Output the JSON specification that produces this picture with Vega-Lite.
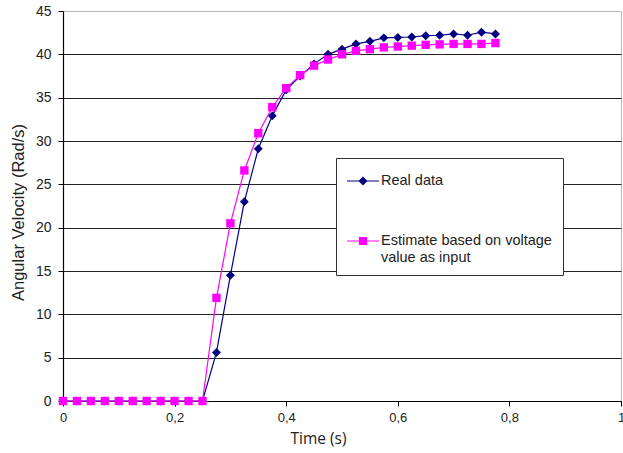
{
  "$schema": "https://vega.github.io/schema/vega-lite/v6.json",
  "autosize": {"type": "none"},
  "padding": {"left": 63, "top": 11, "right": 2, "bottom": 52},
  "width": 558,
  "height": 390,
  "background": "white",
  "config": {
    "view": {"stroke": "#b8b8b8", "strokeWidth": 1},
    "font": "Liberation Sans"
  },
  "data": {
    "values": [
      {"t": 0.0, "series": "Real data", "v": 0},
      {"t": 0.025, "series": "Real data", "v": 0},
      {"t": 0.05, "series": "Real data", "v": 0},
      {"t": 0.075, "series": "Real data", "v": 0},
      {"t": 0.1, "series": "Real data", "v": 0},
      {"t": 0.125, "series": "Real data", "v": 0},
      {"t": 0.15, "series": "Real data", "v": 0},
      {"t": 0.175, "series": "Real data", "v": 0},
      {"t": 0.2, "series": "Real data", "v": 0},
      {"t": 0.225, "series": "Real data", "v": 0},
      {"t": 0.25, "series": "Real data", "v": 0},
      {"t": 0.275, "series": "Real data", "v": 5.6},
      {"t": 0.3, "series": "Real data", "v": 14.5},
      {"t": 0.325, "series": "Real data", "v": 23.0},
      {"t": 0.35, "series": "Real data", "v": 29.1},
      {"t": 0.375, "series": "Real data", "v": 32.9},
      {"t": 0.4, "series": "Real data", "v": 35.9},
      {"t": 0.425, "series": "Real data", "v": 37.5},
      {"t": 0.45, "series": "Real data", "v": 38.9},
      {"t": 0.475, "series": "Real data", "v": 40.0},
      {"t": 0.5, "series": "Real data", "v": 40.6},
      {"t": 0.525, "series": "Real data", "v": 41.2},
      {"t": 0.55, "series": "Real data", "v": 41.5},
      {"t": 0.575, "series": "Real data", "v": 41.9},
      {"t": 0.6, "series": "Real data", "v": 41.95},
      {"t": 0.625, "series": "Real data", "v": 42.0},
      {"t": 0.65, "series": "Real data", "v": 42.15},
      {"t": 0.675, "series": "Real data", "v": 42.2},
      {"t": 0.7, "series": "Real data", "v": 42.35},
      {"t": 0.725, "series": "Real data", "v": 42.2},
      {"t": 0.75, "series": "Real data", "v": 42.55},
      {"t": 0.775, "series": "Real data", "v": 42.35},
      {"t": 0.0, "series": "Estimate", "v": 0},
      {"t": 0.025, "series": "Estimate", "v": 0},
      {"t": 0.05, "series": "Estimate", "v": 0},
      {"t": 0.075, "series": "Estimate", "v": 0},
      {"t": 0.1, "series": "Estimate", "v": 0},
      {"t": 0.125, "series": "Estimate", "v": 0},
      {"t": 0.15, "series": "Estimate", "v": 0},
      {"t": 0.175, "series": "Estimate", "v": 0},
      {"t": 0.2, "series": "Estimate", "v": 0},
      {"t": 0.225, "series": "Estimate", "v": 0},
      {"t": 0.25, "series": "Estimate", "v": 0},
      {"t": 0.275, "series": "Estimate", "v": 11.9},
      {"t": 0.3, "series": "Estimate", "v": 20.5},
      {"t": 0.325, "series": "Estimate", "v": 26.6},
      {"t": 0.35, "series": "Estimate", "v": 30.9},
      {"t": 0.375, "series": "Estimate", "v": 33.9},
      {"t": 0.4, "series": "Estimate", "v": 36.1},
      {"t": 0.425, "series": "Estimate", "v": 37.6},
      {"t": 0.45, "series": "Estimate", "v": 38.7},
      {"t": 0.475, "series": "Estimate", "v": 39.4},
      {"t": 0.5, "series": "Estimate", "v": 40.0},
      {"t": 0.525, "series": "Estimate", "v": 40.4},
      {"t": 0.55, "series": "Estimate", "v": 40.6},
      {"t": 0.575, "series": "Estimate", "v": 40.8},
      {"t": 0.6, "series": "Estimate", "v": 40.9},
      {"t": 0.625, "series": "Estimate", "v": 41.0},
      {"t": 0.65, "series": "Estimate", "v": 41.1},
      {"t": 0.675, "series": "Estimate", "v": 41.15},
      {"t": 0.7, "series": "Estimate", "v": 41.2},
      {"t": 0.725, "series": "Estimate", "v": 41.2},
      {"t": 0.75, "series": "Estimate", "v": 41.2},
      {"t": 0.775, "series": "Estimate", "v": 41.3}
    ]
  },
  "encoding": {
    "x": {
      "field": "t", "type": "quantitative",
      "scale": {"domain": [0, 1], "nice": false, "zero": false},
      "axis": {
        "title": "Time (s)",
        "values": [0, 0.2, 0.4, 0.6, 0.8, 1],
        "labelExpr": "datum.value == 0 || datum.value == 1 ? format(datum.value, 'd') : replace(format(datum.value, '.1f'), '.', ',')",
        "grid": false,
        "domainColor": "#000", "domainWidth": 1.2,
        "tickColor": "#000", "tickSize": 5,
        "labelFont": "Liberation Sans", "labelFontSize": 13, "labelColor": "#222", "labelPadding": 5,
        "labelFlush": false, "labelOverlap": false,
        "titleFont": "Open Sans", "titleFontSize": 15.5, "titleFontWeight": "normal", "titleColor": "#222",
        "titleX": 255, "titleY": 37, "titleBaseline": "middle", "titleAlign": "center"
      }
    },
    "y": {
      "field": "v", "type": "quantitative",
      "scale": {"domain": [0, 45], "nice": false},
      "axis": {
        "title": "Angular Velocity (Rad/s)",
        "values": [0, 5, 10, 15, 20, 25, 30, 35, 40, 45],
        "grid": true,
        "gridColor": "#222", "gridWidth": 1.2,
        "gridOpacity": {"condition": {"test": "datum.value == 45", "value": 0}, "value": 1},
        "domainColor": "#000", "domainWidth": 1.2,
        "tickColor": "#000", "tickSize": 5,
        "labelFont": "Liberation Sans", "labelFontSize": 14, "labelColor": "#222", "labelPadding": 7,
        "titleFont": "Liberation Sans", "titleFontSize": 16.5, "titleFontWeight": "normal", "titleColor": "#222",
        "titleX": -45, "titleY": 201, "titleBaseline": "middle", "titleAlign": "center", "titleAngle": -90
      }
    }
  },
  "layer": [
    {
      "transform": [{"filter": "datum.series == 'Real data'"}],
      "mark": {"type": "line", "color": "#000080", "strokeWidth": 1.2}
    },
    {
      "transform": [{"filter": "datum.series == 'Real data'"}],
      "mark": {"type": "point", "shape": "diamond", "filled": true, "color": "#000080", "size": 80, "opacity": 1}
    },
    {
      "transform": [{"filter": "datum.series == 'Estimate'"}],
      "mark": {"type": "line", "color": "#ff00ff", "strokeWidth": 1.2}
    },
    {
      "transform": [{"filter": "datum.series == 'Estimate'"}],
      "mark": {"type": "point", "shape": "square", "filled": true, "color": "#ff00ff", "size": 70, "opacity": 1}
    },
    {
      "mark": {"type": "point", "filled": true, "opacity": 0},
      "encoding": {
        "color": {
          "field": "series", "type": "nominal",
          "scale": {"domain": ["Real data", "Estimate"], "range": ["#000080", "#ff00ff"]},
          "legend": {
            "orient": "none", "legendX": 273, "legendY": 147, "title": null,
            "fillColor": "white", "strokeColor": "#333", "padding": 11,
            "symbolSize": 576, "symbolOpacity": 1, "symbolStrokeWidth": 0, "symbolOffset": 4,
            "labelFont": "Liberation Sans", "labelFontSize": 14.5, "labelColor": "#222",
            "labelOffset": 6, "rowPadding": 41, "labelLimit": 400,
            "labelExpr": "datum.label == 'Estimate' ? ['Estimate based on voltage', 'value as  input'] : datum.label"
          }
        },
        "shape": {
          "field": "series", "type": "nominal",
          "scale": {"domain": ["Real data", "Estimate"], "range": [
            "M-1.333,-0.05H1.333V0.05H-1.333Z M-0.38,0L0,-0.38L0.38,0L0,0.38Z",
            "M-1.333,-0.05H1.333V0.05H-1.333Z M-0.34,-0.34H0.34V0.34H-0.34Z"
          ]},
          "legend": {
            "orient": "none", "legendX": 273, "legendY": 147, "title": null,
            "fillColor": "white", "strokeColor": "#333", "padding": 11,
            "symbolSize": 576, "symbolOpacity": 1, "symbolStrokeWidth": 0, "symbolOffset": 4,
            "labelFont": "Liberation Sans", "labelFontSize": 14.5, "labelColor": "#222",
            "labelOffset": 6, "rowPadding": 41, "labelLimit": 400,
            "labelExpr": "datum.label == 'Estimate' ? ['Estimate based on voltage', 'value as  input'] : datum.label"
          }
        }
      }
    }
  ]
}
